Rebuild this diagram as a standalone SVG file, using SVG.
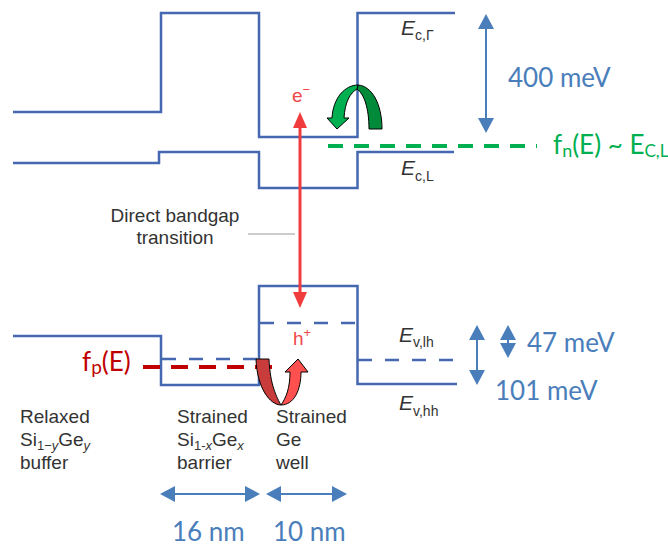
<svg xmlns="http://www.w3.org/2000/svg" width="668" height="548" viewBox="0 0 668 548">
<style>
.band{fill:none;stroke:#4668b0;stroke-width:2.5}
.dband{fill:none;stroke:#4668b0;stroke-width:2.5;stroke-dasharray:14 13}
.ann{fill:none;stroke:#4a7ebb;stroke-width:2}
.ah{fill:#4a7ebb}
.lab{font-family:"Liberation Sans",Arial,sans-serif;font-size:19px;fill:#333}
.elab{font-family:"Liberation Sans",Arial,sans-serif;font-size:21px;fill:#333}
.sub{font-size:14px;font-style:normal}
.big{font-family:Lato,"Open Sans",sans-serif;font-size:26px}
</style>
<rect width="668" height="548" fill="#fff"/>
<g id="connectors">
  <path class="band" d="M13,112 H161 V13 H259 V137 H357.5 V13 H455"/>
  <path class="band" d="M13,163 H159 V152 H259 V188 H357.5 V152 H454"/>
  <path class="band" d="M13,336 H161 V385 H259 V286 H357.5 V384 H457"/>
  <path class="dband" d="M162,359 H259"/>
  <path class="dband" d="M260,323 H357"/>
  <path class="dband" d="M358,360 H457"/>
  <path d="M328,146 H537" fill="none" stroke="#00b050" stroke-width="4" stroke-dasharray="15 11"/>
  <path d="M143,367 H272" fill="none" stroke="#c00000" stroke-width="4" stroke-dasharray="17 11"/>
  <path d="M300,126 V294" fill="none" stroke="#f03c3c" stroke-width="3"/>
  <path d="M300,112 L307,128 H293 Z" fill="#f03c3c"/>
  <path d="M300,308 L307,292 H293 Z" fill="#f03c3c"/>
  <path d="M248,234 H295" fill="none" stroke="#999" stroke-width="1"/>
  <path class="ann" d="M486,26 V121"/>
  <path class="ah" d="M486,14 L494,29 H478 Z"/>
  <path class="ah" d="M486,133 L494,118 H478 Z"/>
  <path class="ann" d="M477,337 V373"/>
  <path class="ah" d="M477,325 L485,340 H469 Z"/>
  <path class="ah" d="M477,385 L485,370 H469 Z"/>
  <path class="ann" d="M508,335 V348"/>
  <path class="ah" d="M508,325 L516,340 H500 Z"/>
  <path class="ah" d="M508,358 L516,343 H500 Z"/>
  <path class="ann" d="M172,494 H248"/>
  <path class="ah" d="M160,494 L175,486 V502 Z"/>
  <path class="ah" d="M260,494 L245,486 V502 Z"/>
  <path class="ann" d="M278,494 H335"/>
  <path class="ah" d="M266,494 L281,486 V502 Z"/>
  <path class="ah" d="M347,494 L332,486 V502 Z"/>
</g>
<g id="green-arrow" stroke="#000" stroke-width="1" stroke-linejoin="round">
  <path d="M358,85 C372,86 382,104 382,129 H369 C369,108 364,94 357,89 Z" fill="#008a3a"/>
  <path d="M358,85 C345,85 333,98 332,118 H327 L337,129 L349,118 H344 C345,102 350,93 357,89 Z" fill="#00b050"/>
</g>
<g id="red-arrow" stroke="#000" stroke-width="1" stroke-linejoin="round">
  <path d="M256,359 C257,388 270,405 281,405 C277,398 270,385 269,359 Z" fill="#c83c3c"/>
  <path d="M281,405 C294,405 301,390 301,372 H308 L298,359 L285,372 H290 C290,388 286,398 281,405 Z" fill="#ff5050"/>
</g>
<g id="labels">
  <text class="elab" x="401" y="35"><tspan font-style="italic">E</tspan><tspan class="sub" dy="5">c,Γ</tspan></text>
  <text class="elab" x="401" y="175"><tspan font-style="italic">E</tspan><tspan class="sub" dy="6">c,L</tspan></text>
  <text class="elab" x="399" y="342"><tspan font-style="italic">E</tspan><tspan class="sub" dy="5">v,lh</tspan></text>
  <text class="elab" x="399" y="410"><tspan font-style="italic">E</tspan><tspan class="sub" dy="6">v,hh</tspan></text>
  <text x="292" y="102" font-family="Liberation Sans,Arial,sans-serif" font-size="19" fill="#f04848">e<tspan font-size="13" dy="-8">−</tspan></text>
  <text x="293" y="345" font-family="Liberation Sans,Arial,sans-serif" font-size="19" fill="#f04848">h<tspan font-size="13" dy="-8">+</tspan></text>
  <text class="lab" x="175" y="222" text-anchor="middle" font-size="19.5">Direct bandgap</text>
  <text class="lab" x="175" y="244" text-anchor="middle" font-size="19.5">transition</text>
  <text class="lab" x="20" y="423">Relaxed</text>
  <text class="lab" x="20" y="446">Si<tspan font-size="13" dy="4">1−<tspan font-style="italic">y</tspan></tspan><tspan dy="-4">Ge</tspan><tspan font-size="13" font-style="italic" dy="4">y</tspan></text>
  <text class="lab" x="20" y="469">buffer</text>
  <text class="lab" x="177" y="423">Strained</text>
  <text class="lab" x="177" y="446">Si<tspan font-size="13" dy="4">1-<tspan font-style="italic">x</tspan></tspan><tspan dy="-4">Ge</tspan><tspan font-size="13" font-style="italic" dy="4">x</tspan></text>
  <text class="lab" x="177" y="469">barrier</text>
  <text class="lab" x="276" y="423">Strained</text>
  <text class="lab" x="276" y="446">Ge</text>
  <text class="lab" x="276" y="469">well</text>
  <text class="big" x="508" y="87" fill="#4a7ebb">400 meV</text>
  <text class="big" x="527" y="352" fill="#4a7ebb">47 meV</text>
  <text class="big" x="495" y="400" fill="#4a7ebb">101 meV</text>
  <text class="big" x="172" y="541" fill="#4a7ebb">16 nm</text>
  <text class="big" x="273" y="541" fill="#4a7ebb">10 nm</text>
  <text class="big" x="553" y="154" fill="#00b050" font-size="24">f<tspan font-size="18" dy="3">n</tspan><tspan dy="-3">(E) ~ E</tspan><tspan font-size="17" dy="3">C,L</tspan></text>
  <text class="big" x="82" y="371" fill="#c00000">f<tspan font-size="19" dy="3">p</tspan><tspan dy="-3">(E)</tspan></text>
</g>
</svg>
